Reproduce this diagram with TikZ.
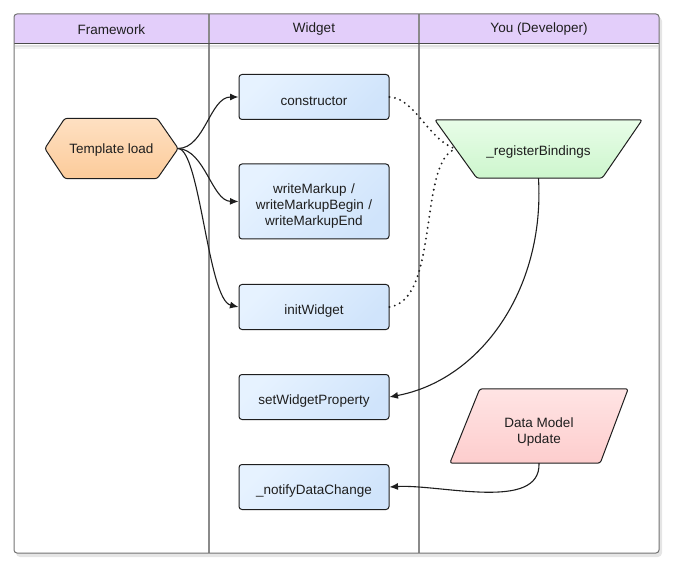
\documentclass[tikz,border=0pt]{standalone}
\usepackage{fontspec}
\setmainfont{Liberation Sans}
\usetikzlibrary{calc,arrows.meta}
\pgfdeclarelayer{framelayer}
\pgfdeclarelayer{shapelayer}
\pgfsetlayers{framelayer,shapelayer,main}
\definecolor{lav}{HTML}{E3CEFA}
\definecolor{blueA}{HTML}{E6F2FF}
\definecolor{blueB}{HTML}{D0E4FB}
\definecolor{orA}{HTML}{FEE0C2}
\definecolor{orB}{HTML}{FCCB9A}
\definecolor{grA}{HTML}{E8FDE8}
\definecolor{grB}{HTML}{CDF6CD}
\definecolor{pkA}{HTML}{FFE4E4}
\definecolor{pkB}{HTML}{FDCDCD}
\definecolor{ink}{HTML}{1E1E1E}
\definecolor{lane}{HTML}{8A8A8A}
\newcommand{\lowby}[1]{\rule{0pt}{#1}}
\tikzset{
  hdr/.style={text=ink},
  lower/.style={execute at begin node={\rule{0pt}{#1}}},
  wbox/.style={draw=ink, line width=1pt, rounded corners=3pt, top color=blueA, bottom color=blueB, shading angle=45,
    minimum width=150pt, minimum height=45pt, text width=140pt, align=center, text=ink},
  txtnode/.style={text=ink, align=center, inner sep=0pt},
  shapeline/.style={draw=ink, line width=1pt, rounded corners=2.5pt, shading angle=45},
  flow/.style={draw=ink, line width=1.1pt, -{Latex[length=8.5pt,width=7pt]}},
  dots/.style={draw=ink, line width=2.1pt, line cap=round, dash pattern=on 0pt off 5.5pt}
}
\begin{document}
\begin{tikzpicture}[x=1pt,y=-1pt, font=\fontsize{13.5}{16}\selectfont]
\useasboundingbox (0,0) rectangle (673,567);
\begin{pgfonlayer}{framelayer}
% frame shadow
\fill[black!10, rounded corners=4pt] (16,17) rectangle (662,557);
\fill[white, rounded corners=3pt] (14,14) rectangle (659,553);
% header
\fill[lav, rounded corners=3pt] (14,14) rectangle (659,44);
\fill[lav] (14,30) rectangle (659,44);
\fill[black!12] (15,45) rectangle (658,47);
\fill[black!5] (15,47) rectangle (658,49);
% lanes
\draw[lane, line width=1.4pt] (209,14) -- (209,553);
\draw[lane, line width=1.4pt] (419,14) -- (419,553);
\draw[ink!80, line width=1pt] (14,44) -- (659,44);
\draw[black!55, line width=1pt, rounded corners=3pt] (14,14) rectangle (659,553);
\end{pgfonlayer}
% header labels
\node[hdr] (h1) at (111.5,29.5) {Framework};
\node[hdr] (h2) at (314,29.5) {Widget};
\node[hdr] (h3) at (539,29.5) {You (Developer)};
% widget boxes
\node[wbox] (ctor) at (314,97) {\lowby{17pt}constructor};
\node[wbox, minimum height=75pt] (wm) at (314,201.5) {\lowby{18pt}writeMarkup /\\ writeMarkupBegin /\\ writeMarkupEnd};
\node[wbox] (iw) at (314,307) {\lowby{17pt}initWidget};
\node[wbox] (swp) at (314,397) {\lowby{17pt}setWidgetProperty};
\node[wbox] (ndc) at (314,487) {\lowby{17pt}\_notifyDataChange};
% template load hexagon
\node[txtnode, minimum width=133pt, minimum height=60pt] (tl) at (111.5,148.5) {\lowby{12pt}Template load};
\begin{pgfonlayer}{shapelayer}
\path[shapeline, top color=orA, bottom color=orB]
  (tl.west) -- ([xshift=20pt]tl.north west) -- ([xshift=-21pt]tl.north east) -- (tl.east)
  -- ([xshift=-21pt]tl.south east) -- ([xshift=20pt]tl.south west) -- cycle;
\end{pgfonlayer}
% register bindings trapezoid
\node[txtnode, minimum width=207pt, minimum height=58pt] (rb) at (538.5,149) {\lowby{16pt}\_registerBindings};
\begin{pgfonlayer}{shapelayer}
\path[shapeline, top color=grA, bottom color=grB]
  (rb.north west) -- (rb.north east) -- ([xshift=-40pt]rb.south east) -- ([xshift=42pt]rb.south west) -- cycle;
\end{pgfonlayer}
\coordinate (rbw) at ($(rb.north west)!0.5!([xshift=42pt]rb.south west)$);
% data model update parallelogram
\node[txtnode, minimum width=178pt, minimum height=74pt] (dm) at (539,426) {\lowby{22pt}Data Model\\ Update};
\begin{pgfonlayer}{shapelayer}
\path[shapeline, top color=pkA, bottom color=pkB]
  ([xshift=30pt]dm.north west) -- (dm.north east) -- ([xshift=-28pt]dm.south east) -- (dm.south west) -- cycle;
\end{pgfonlayer}
% flows from template load
\draw[flow] (tl.east) .. controls (205,148) and (210,97) .. (ctor.west);
\draw[flow] (tl.east) .. controls (205,150) and (212,201) .. (wm.west);
\draw[flow] (tl.east) .. controls (200,150) and (208,300) .. (iw.west);
% dotted links
\draw[dots] (ctor.east) .. controls (415,98) and (428,140) .. (rbw);
\draw[dots] (iw.east) .. controls (440,300) and (418,160) .. (rbw);
% developer flows
\draw[flow] (rb.south) .. controls (545,290) and (480,380) .. (swp.east);
\draw[flow] (dm.south) .. controls (541,512) and (440,484) .. (ndc.east);
\end{tikzpicture}
\end{document}
